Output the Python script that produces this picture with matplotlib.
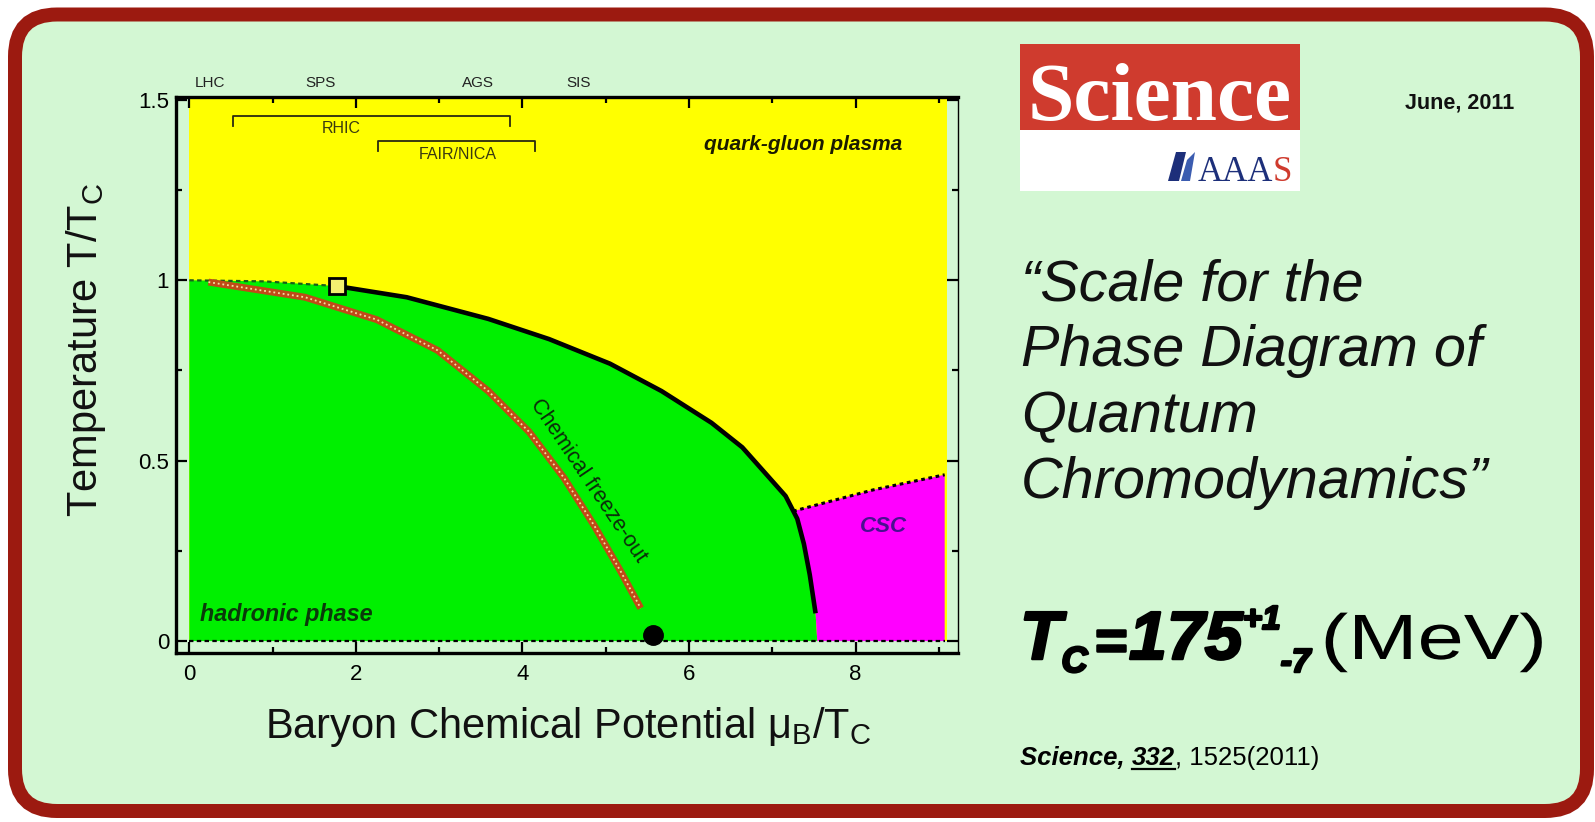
import matplotlib
matplotlib.use("Agg")
import matplotlib.pyplot as plt
import matplotlib.patheffects as pe
from matplotlib.font_manager import FontProperties
from matplotlib.patches import FancyBboxPatch, PathPatch, Polygon, Rectangle
from matplotlib.textpath import TextPath
from matplotlib.ticker import MultipleLocator
from matplotlib.transforms import Affine2D

plt.rcParams["font.family"] = ["Liberation Sans", "DejaVu Sans"]
plt.rcParams["mathtext.fontset"] = "custom"
plt.rcParams["mathtext.rm"] = "Liberation Sans"

W, H = 1595, 822          # figure size in pixels (dpi=100)

# --- phase diagram data (mu_B/T_c, T/T_c) ---
pc_mu = [0.0, 0.9, 1.77]                      # dashed boundary near mu=0
pc_t = [1.0, 0.997, 0.984]
cross_mu = [1.77, 2.61, 3.59, 4.32, 5.05, 5.67, 6.27, 6.64, 6.91, 7.16, 7.30,
            7.38, 7.45, 7.52]
cross_t = [0.984, 0.953, 0.893, 0.837, 0.769, 0.693, 0.605, 0.537, 0.467, 0.402,
           0.339, 0.269, 0.184, 0.077]
cross_base_mu = 7.54                          # where the hadronic phase meets T=0
freeze_mu = [0.23, 1.39, 2.25, 2.98, 3.59, 4.08, 4.50, 4.87, 5.18, 5.42]
freeze_t = [0.995, 0.953, 0.891, 0.806, 0.693, 0.580, 0.452, 0.317, 0.193, 0.091]
csc_mu = [7.25, 8.21, 9.07]                   # colour superconductor upper edge
csc_t = [0.36, 0.419, 0.461]
qgp_mu = [0.0, 9.1]
qgp_t = [0.0, 1.51]
crit_mu, crit_t = 1.77, 0.984                 # critical point (open square)
nucl_mu, nucl_t = 5.57, 0.017                 # nuclear matter (filled circle)

facilities = ["LHC", "SPS", "AGS", "SIS"]
facility_mu = [0.25, 1.57, 3.47, 4.67]
rhic_span = [0.52, 3.85]
fair_span = [2.27, 4.15]

BG = "#d3f7d3"
BORDER = "#9c1a10"

fig = plt.figure(figsize=(W / 100, H / 100), dpi=100)
fig.patch.set_facecolor("white")

# background panel in pixel coordinates
bg = fig.add_axes([0, 0, 1, 1], zorder=0)
bg.set_xlim(0, W)
bg.set_ylim(H, 0)
bg.axis("off")
bg.add_patch(FancyBboxPatch((15, 14.5), 1572, 796.5,
                            boxstyle="round,pad=0,rounding_size=42",
                            fc=BG, ec=BORDER, lw=14 * 0.72))

# Science / AAAS logo
bg.add_patch(Rectangle((1020, 44), 280, 86, fc="#cf3b2e", ec="none"))
bg.add_patch(Rectangle((1020, 130), 280, 61, fc="white", ec="none"))
bg.text(1160, 120, "Science", family="Liberation Serif", weight="bold",
        fontsize=60, color="white", ha="center", va="baseline")
bg.add_patch(Polygon([(1168, 181), (1176, 152), (1186, 152), (1179, 181)],
                     fc="#1d2f7a", ec="none"))
bg.add_patch(Polygon([(1181, 181), (1187, 160), (1195, 152), (1190, 181)],
                     fc="#3b5cb0", ec="none"))
bg.text(1273, 181, "AAA", family="Liberation Serif", fontsize=25,
        color="#1d2f7a", ha="right", va="baseline")
bg.text(1273, 181, "S", family="Liberation Serif", fontsize=25,
        color="#cf3b2e", ha="left", va="baseline")

bg.text(1460, 108, "June, 2011", weight="bold", fontsize=15.5,
        color="#111111", ha="center", va="baseline")

quote = ["\u201cScale for the", "Phase Diagram of", "Quantum",
         "Chromodynamics\u201d"]
for i, line in enumerate(quote):
    bg.text(1021, 300 + 66 * i, line, style="italic", fontsize=41.5,
            color="#111111", ha="left", va="baseline")

renderer = fig.canvas.get_renderer()


def text_run(x, y, pieces):
    """Lay out text pieces left to right; each piece is (text, dx, dy, kwargs)."""
    out = []
    for txt, dx, dy, kw in pieces:
        x += dx
        t = bg.text(x, y + dy, txt, ha="left", va="baseline", **kw)
        bb = t.get_window_extent(renderer)
        out.append((t, x, bb.width))
        x += bb.width
    return out


heavy = dict(weight="bold", style="italic", color="black",
             path_effects=[pe.withStroke(linewidth=1.8, foreground="black")])
tc = text_run(1020, 659, [
    ("T", 0, 0, dict(fontsize=49, **heavy)),
    ("C", 0, 13, dict(fontsize=26, **heavy)),
    ("=", 6, 0, dict(fontsize=40, **heavy)),
    ("175", 3, 0, dict(fontsize=49, **heavy)),
    ("+1", 0, -30, dict(fontsize=24, **heavy)),
    ("-7", 0, 13, dict(fontsize=24, **heavy)),
])
# "(MeV)" is set a little wider than the font's natural proportions
_, lx, lw_ = tc[-1]
mev = TextPath((0, 0), "(MeV)", size=64, prop=FontProperties(family="Liberation Sans"))
mev_tr = Affine2D().scale(1.3, -1).translate(lx + lw_ + 10, 659)
bg.add_patch(PathPatch(mev_tr.transform_path(mev), fc="black", ec="none"))

ref = text_run(1020, 765, [
    ("Science, ", 0, 0, dict(fontsize=18.5, weight="bold", style="italic")),
    ("332", 0, 0, dict(fontsize=18.5, weight="bold", style="italic")),
    (", 1525(2011)", 0, 0, dict(fontsize=18.5)),
])
_, ux, uw = ref[1]
bg.plot([ux, ux + uw], [769, 769], color="black", lw=1.6)

# --- phase diagram axes ---
left, right, top, bottom = 176, 958, 97, 653
ax = fig.add_axes([left / W, 1 - bottom / H, (right - left) / W, (bottom - top) / H],
                  zorder=1)
ax.set_facecolor(BG)
ax.set_xlim(-0.16, 9.23)
ax.set_ylim(-0.033, 1.508)

ax.fill_between(qgp_mu, qgp_t[0], qgp_t[1], color="#ffff00", lw=0)
hadron = list(zip(pc_mu, pc_t)) + list(zip(cross_mu, cross_t)) + \
    [(cross_base_mu, 0.0), (pc_mu[0], 0.0)]
ax.add_patch(Polygon(hadron, fc="#00f000", ec="none"))
csc_left = [(m, t) for m, t in zip(cross_mu, cross_t) if t < csc_t[0]]
csc_poly = [(csc_mu[0], csc_t[0])] + csc_left + \
    [(cross_base_mu, 0.0), (csc_mu[-1], 0.0)] + list(zip(csc_mu, csc_t))[::-1]
ax.add_patch(Polygon(csc_poly, fc="#ff00ff", ec="none"))

ax.plot(pc_mu, pc_t, color="#1b5e1b", lw=1.6, ls=(0, (2, 1.5)))
ax.plot([pc_mu[0], csc_mu[-1]], [0, 0], color="black", lw=1.6, ls=(0, (2, 1.5)))
ax.plot(csc_mu, csc_t, color="black", lw=2.2, ls=(0, (1.2, 1.2)))
ax.plot(cross_mu, cross_t, color="black", lw=3.3, solid_capstyle="butt",
        solid_joinstyle="round")
ax.plot(freeze_mu, freeze_t, color="#c04a18", lw=5, solid_capstyle="butt",
        solid_joinstyle="round")
ax.plot(freeze_mu, freeze_t, color="#f3e2a0", lw=1.3, ls=(0, (1, 1.6)))
ax.plot(crit_mu, crit_t, marker="s", ms=12, mfc="#f4f070", mec="black", mew=2)
ax.plot(nucl_mu, nucl_t, marker="o", ms=14, color="black", clip_on=False)

# accelerator coverage brackets
for (a, b), y, lab, lx, ly in [(rhic_span, 1.456, "RHIC", 1.82, 1.422),
                               (fair_span, 1.387, "FAIR/NICA", 3.22, 1.35)]:
    ax.plot([a, a, b, b], [y - 0.028, y, y, y - 0.028], color="#2a2a10", lw=1.3)
    ax.text(lx, ly, lab, fontsize=11.5, color="#3a3a10", ha="center", va="center")
for name, m in zip(facilities, facility_mu):
    ax.text(m, 1.548, name, fontsize=11, color="#222222", ha="center",
            va="center", clip_on=False)

ax.text(7.37, 1.376, "quark-gluon plasma", fontsize=15, weight="bold",
        style="italic", color="#1a1a00", ha="center", va="center")
ax.text(0.13, 0.075, "hadronic phase", fontsize=16.8, weight="bold",
        style="italic", color="#0a3a0a", ha="left", va="center")
ax.text(8.34, 0.317, "CSC", fontsize=16, weight="bold", style="italic",
        color="#4a1090", ha="center", va="center")
ax.text(4.79, 0.445, "Chemical freeze-out", fontsize=15.5, color="#0b2b0b",
        rotation=-56, rotation_mode="anchor", ha="center", va="center")

ax.xaxis.set_major_locator(MultipleLocator(2))
ax.xaxis.set_minor_locator(MultipleLocator(1))
ax.yaxis.set_major_locator(MultipleLocator(0.5))
ax.yaxis.set_minor_locator(MultipleLocator(0.25))
ax.yaxis.set_major_formatter(plt.FuncFormatter(lambda v, p: f"{v:g}"))
ax.tick_params(which="both", direction="in", top=True, right=True, width=1.6,
               labelsize=16, colors="black")
ax.tick_params(which="major", length=8)
ax.tick_params(which="minor", length=4.5)
ax.tick_params(axis="x", pad=8)
ax.tick_params(axis="y", pad=5)
for s in ax.spines.values():
    s.set_linewidth(2.4)
ax.spines["right"].set_linewidth(1.0)

ax.set_xlabel("Baryon Chemical Potential \u03bc$_\\mathregular{B}$/T$_\\mathregular{C}$",
              fontsize=30, color="#111111")
ax.set_ylabel("Temperature T/T$_\\mathregular{C}$", fontsize=30, color="#111111")
ax.xaxis.label.set_va("center")
ax.yaxis.label.set_va("center")
ax.xaxis.set_label_coords(0.502, -0.133)
ax.yaxis.set_label_coords(-0.115, 0.545)

fig.savefig("out.png", dpi=100, facecolor=fig.get_facecolor())
